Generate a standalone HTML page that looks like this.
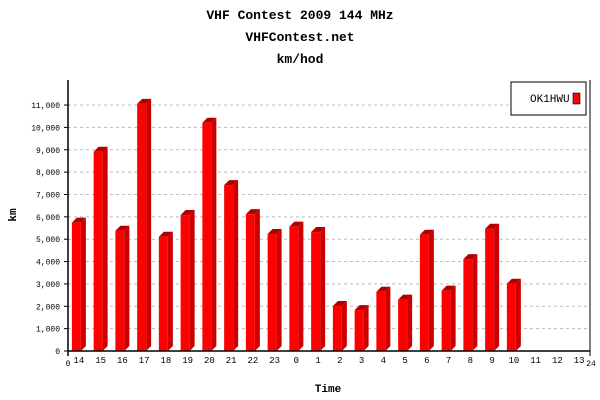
<!DOCTYPE html>
<html><head><meta charset="utf-8"><style>
body{margin:0;background:#fff}
svg{display:block;font-family:"Liberation Mono",monospace}
</style></head><body>
<svg id="c" width="600" height="400">
<text x="300" y="19" text-anchor="middle" font-size="13" font-weight="bold">VHF Contest 2009 144 MHz</text>
<text x="300" y="41" text-anchor="middle" font-size="13" font-weight="bold">VHFContest.net</text>
<text x="300" y="63" text-anchor="middle" font-size="13" font-weight="bold">km/hod</text>
<text x="16" y="215" text-anchor="middle" font-size="11" font-weight="bold" transform="rotate(-90 16 215)">km</text>
<text x="328" y="392" text-anchor="middle" font-size="11" font-weight="bold">Time</text>
<g id="grid"></g><g id="bars"></g><g id="axes"></g>
<g>
<rect x="511" y="82" width="75" height="33" fill="#fff" stroke="#000" stroke-width="1"/>
<text x="530" y="102" font-size="11">OK1HWU</text>
<rect x="573" y="93" width="7" height="11" fill="#f00" stroke="#000" stroke-width="0.6"/>
</g>
</svg>
<script>
const categories=["14","15","16","17","18","19","20","21","22","23","0","1","2","3","4","5","6","7","8","9","10","11","12","13"];
const values=[5740,8910,5380,11050,5110,6080,10210,7420,6120,5230,5560,5320,2010,1830,2650,2300,5200,2700,4110,5470,3010,null,null,null];
const yTicks=[0,1000,2000,3000,4000,5000,6000,7000,8000,9000,10000,11000];
const yTickLabels=["0","1,000","2,000","3,000","4,000","5,000","6,000","7,000","8,000","9,000","10,000","11,000"];
const NS="http://www.w3.org/2000/svg";
const X0=68,X1=590,Y0=351,PER=22.36;
const slot=(X1-X0)/categories.length;
const y=v=>Y0-v*PER/1000;
const xc=i=>X0+slot*(i+0.5);
function mk(t,a,p){const e=document.createElementNS(NS,t);for(const k in a)e.setAttribute(k,a[k]);p.appendChild(e);return e;}
const grid=document.getElementById('grid'),bars=document.getElementById('bars'),axes=document.getElementById('axes');
yTicks.forEach((v,i)=>{
 if(v>0){const g=mk('line',{x1:X0,x2:X1,y1:y(v),y2:y(v),stroke:'#bbb','stroke-dasharray':'3,3'},grid);
 
 }
 const t=mk('text',{x:X0-8,y:y(v)+3,'text-anchor':'end','font-size':'8'},axes);t.textContent=yTickLabels[i];
 
 
 mk('line',{x1:X0-4,x2:X0,y1:y(v),y2:y(v),stroke:'#000'},axes);
});
values.forEach((v,i)=>{
 if(v==null)return;
 const l=xc(i)-7,w=9,d=5,top=y(v);
 const g=mk('g',{},bars);
 
 
 mk('polygon',{points:`${l+w},${top} ${l+w+d},${top-d} ${l+w+d},${Y0-d} ${l+w},${Y0}`,fill:'#cc0000'},g);
 mk('polygon',{points:`${l},${top} ${l+d},${top-d} ${l+w+d},${top-d} ${l+w},${top}`,fill:'#b00000'},g);
 mk('rect',{x:l,y:top,width:w,height:Y0-top,fill:'#ff0000'},g);
});
mk('line',{x1:X0,x2:X0,y1:80,y2:Y0+5,stroke:'#000','stroke-width':1.5},axes);
mk('line',{x1:X0,x2:X1,y1:Y0,y2:Y0,stroke:'#000','stroke-width':1.5},axes);
mk('line',{x1:X1,x2:X1,y1:80,y2:Y0+5,stroke:'#000','stroke-width':1},axes);
categories.forEach((c,i)=>{
 const t=mk('text',{x:xc(i),y:Y0+12,'text-anchor':'middle','font-size':'9'},axes);t.textContent=c;
 
 
});
const z=mk('text',{x:X0,y:Y0+15,'text-anchor':'middle','font-size':'8'},axes);z.textContent='0';


const e=mk('text',{x:X1+1,y:Y0+15,'text-anchor':'middle','font-size':'8'},axes);e.textContent='24';


</script>
</body></html>
